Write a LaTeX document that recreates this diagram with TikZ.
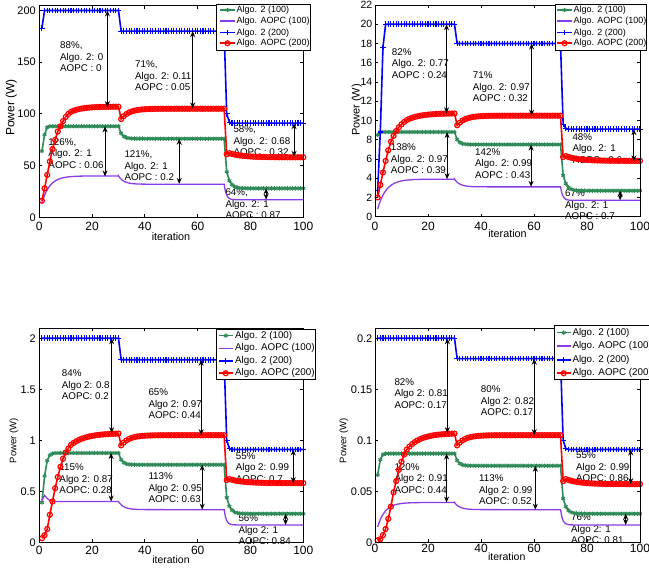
\documentclass[tikz,border=0pt]{standalone}
\usepackage{fontspec}
\setmainfont{Liberation Sans}
\usetikzlibrary{arrows.meta,plotmarks}
\definecolor{cgreen}{RGB}{46,139,87}
\definecolor{cpurple}{RGB}{140,60,230}
\definecolor{cblue}{RGB}{0,0,255}
\definecolor{cred}{RGB}{255,0,0}
\tikzset{
  axisframe/.style={draw=black, line width=0.9pt},
  gcurve/.style={color=cgreen, line width=1.6pt, mark=asterisk, mark size=2.2pt, mark options={line width=1pt}},
  pcurve/.style={color=cpurple, line width=1.3pt},
  bcurve/.style={color=cblue, line width=1.6pt, mark=+, mark size=2.8pt, mark options={line width=1.1pt}},
  rcurve/.style={color=cred, line width=1.6pt, mark=o, mark size=2.5pt, mark options={line width=1.2pt}},
  gaparrow/.style={{Stealth[length=6pt,width=5pt]}-{Stealth[length=6pt,width=5pt]}, line width=1pt, black},
  ann/.style={font=\fontsize{9.8}{11.5}\selectfont, align=left, anchor=west, inner sep=0pt},
  xticklab/.style={anchor=north, inner sep=0pt, font=\fontsize{12}{14}\selectfont, yshift=-5pt},
  yticklab/.style={anchor=east, inner sep=0pt, font=\fontsize{11}{13}\selectfont, xshift=-3.3pt},
  legtext/.style={anchor=west, inner sep=0pt, font=\fontsize{9}{11}\selectfont},
  legbox/.style={draw=black, fill=white, line width=0.9pt},
}
\newcommand{\axbox}[2]{%
  \draw[axisframe] (0,0) rectangle (100,#1);
  \foreach \u in {0,20,...,100}{%
    \draw[axisframe] (\u,0) -- ++(0,3pt);
    \draw[axisframe] (\u,#1) -- ++(0,-3pt);
    \node[xticklab] (xt\u) at (\u,0) {\u};}
  \foreach \v/\l [count=\i] in {#2}{%
    \draw[axisframe] (0,\v) -- ++(3pt,0);
    \draw[axisframe] (100,\v) -- ++(-3pt,0);
    \node[yticklab] (yt\i) at (0,\v) {\l};}
}
\newcommand{\lrow}[6]{%
  \draw[#1, mark indices={2}] plot coordinates {(#2,#4) ({(#2+#3)/2},#4) (#3,#4)};
  \node[legtext] at (#5,#4) {#6};}
\begin{document}
\begin{tikzpicture}[x=1pt,y=1pt]
\useasboundingbox (0,0) rectangle (649,569);
\fill[white] (0,0) rectangle (649,569);
\clip (0,0) rectangle (649,569);

% ---------------- annotation texts ----------------
\node[ann] (a11) at (60,512.3) {88\%,\\Algo. 2: 0\\AOPC : 0};
\node[ann] (a12) at (135,493.3) {71\%,\\Algo. 2: 0.11\\AOPC : 0.05};
\node[ann] (a13) at (48.3,415.7) {126\%,\\Algo. 2: 1\\AOPC : 0.06};
\node[ann] (a14) at (124.3,403) {121\%,\\Algo. 2: 1\\AOPC : 0.2};
\node[ann] (a15) at (233.3,428.3) {58\%,\\Algo. 2: 0.68\\AOPC : 0.32};
\node[ann] (a16) at (225.3,365.3) {64\%,\\Algo. 2: 1\\AOPC : 0.87};

\node[ann] (a21) at (391.7,505.7) {82\%\\Algo. 2: 0.77\\AOPC : 0.24};
\node[ann] (a22) at (472.7,482.3) {71\%\\Algo. 2: 0.97\\AOPC : 0.32};
\node[ann] (a23) at (390.7,410) {138\%\\Algo. 2: 0.97\\AOPC : 0.39};
\node[ann] (a24) at (475,405.7) {142\%\\Algo. 2: 0.99\\AOPC : 0.43};
\node[ann] (a25) at (572.3,420.7) {48\%\\Algo. 2: 1\\AOPC : 0.6};
\node[ann] (a26) at (565,364) {67\%\\Algo. 2: 1\\AOPC : 0.7};

\node[ann] (a31) at (61.7,184) {84\%\\Algo 2: 0.8\\AOPC: 0.2};
\node[ann] (a32) at (148.3,165) {65\%\\Algo 2: 0.97\\AOPC: 0.44};
\node[ann] (a33) at (59.3,90) {115\%\\Algo 2: 0.87\\AOPC: 0.28};
\node[ann] (a34) at (148.3,81.3) {113\%\\Algo 2: 0.95\\AOPC: 0.63};
\node[ann] (a35) at (235.7,101.7) {55\%\\Algo 2: 0.99\\AOPC: 0.7};
\node[ann] (a36) at (238.3,39) {56\%\\Algo 2: 1\\AOPC: 0.84};

\node[ann] (a41) at (394.3,175.7) {82\%\\Algo 2: 0.81\\AOPC: 0.17};
\node[ann] (a42) at (480.7,168) {80\%\\Algo 2: 0.82\\AOPC: 0.17};
\node[ann] (a43) at (394.3,90.7) {120\%\\Algo 2: 0.91\\AOPC: 0.44};
\node[ann] (a44) at (479,79) {113\%\\Algo 2: 0.99\\AOPC: 0.52};
\node[ann] (a45) at (576,102.3) {55\%\\Algo 2: 0.99\\AOPC: 0.86};
\node[ann] (a46) at (571,40) {76\%\\Algo 2: 1\\AOPC: 0.81};

% ---------------- axis labels ----------------
\node[font=\fontsize{10.8}{12}\selectfont, inner sep=0pt] (il1) at (171,332.3) {iteration};
\node[font=\fontsize{10.8}{12}\selectfont, inner sep=0pt] (il2) at (507.5,335.7) {iteration};
\node[font=\fontsize{10.5}{12}\selectfont, inner sep=0pt] (il3) at (171,9.7) {iteration};
\node[font=\fontsize{10.5}{12}\selectfont, inner sep=0pt] (il4) at (506.7,12.3) {iteration};
\node[font=\fontsize{12}{14}\selectfont, inner sep=0pt, rotate=90] (pl1) at (11.3,461.5) {Power (W)};
\node[font=\fontsize{11}{13}\selectfont, inner sep=0pt, rotate=90] (pl2) at (356.7,459) {Power (W)};
\node[font=\fontsize{9.5}{11}\selectfont, inner sep=0pt, rotate=90] (pl3) at (14,128.2) {Power (W)};
\node[font=\fontsize{9.5}{11}\selectfont, inner sep=0pt, rotate=90] (pl4) at (344,128.2) {Power (W)};

% ================= PLOT 1 =================
\begin{scope}[shift={(39.3pt,351.7pt)}, x=2.64pt, y=1.034pt]
  \draw[gcurve] plot coordinates {(1,64) (2,80) (3,87)}
    -- plot[samples at={4,...,30}] (\x,88)
    -- plot[samples at={31,...,70}] (\x,{76+12*exp(-(\x-30)/1.2)})
    -- plot[samples at={71,...,100}] (\x,{28+16*exp(-(\x-71)/1.3)});
  \draw[pcurve] plot[domain=1:30, samples=59] (\x,{40-26*exp(-(\x-1)/3)})
    -- plot[domain=30:70, samples=81] (\x,{32+8*exp(-(\x-30)/2)})
    -- plot[domain=70:100, samples=61] (\x,{17+15*exp(-(\x-70)/0.8)});
  \draw[bcurve] plot coordinates {(1,183)}
    -- plot[samples at={2,...,30}] (\x,200)
    -- plot[samples at={31,...,70}] (\x,180)
    -- plot coordinates {(71,100) (72,92)}
    -- plot[samples at={73,...,100}] (\x,91);
  \draw[rcurve] plot coordinates {(1,16) (2,28) (3,41) (4,54) (5,66) (6,75) (7,83) (8,88) (9,93) (10,97) (11,100) (12,102)}
    -- plot[samples at={13,...,30}] (\x,{107-5*exp(-(\x-12)/4)})
    -- plot[samples at={31,...,70}] (\x,{105-10*exp(-(\x-31)/3)})
    -- plot coordinates {(71,61)}
    -- plot[samples at={72,...,100}] (\x,{58+4*exp(-(\x-72)/5)});
  \draw[gaparrow] (25.8,200) -- (25.8,106.5);
  \draw[gaparrow] (24.9,88) -- (24.9,39.5);
  \draw[gaparrow] (58.1,180) -- (58.1,105.3);
  \draw[gaparrow] (53,76) -- (53,32.3);
  \draw[gaparrow] (96.5,91) -- (96.5,58.5);
  \draw[gaparrow] (85.9,28) -- (85.9,17);
  \axbox{204.4}{0/0,50/50,100/100,150/150,200/200}
\end{scope}

% ================= PLOT 2 =================
\begin{scope}[shift={(375pt,352.3pt)}, x=2.65pt, y=0.962pt, yticklab/.style={anchor=east, inner sep=0pt, font=\fontsize{10.5}{12}\selectfont, xshift=-2.5pt}]
  \draw[gcurve] plot coordinates {(1,85) (2,88)}
    -- plot[samples at={3,...,30}] (\x,88)
    -- plot[samples at={31,...,70}] (\x,{75+12*exp(-(\x-30)/1.2)})
    -- plot[samples at={71,...,100}] (\x,{27+16*exp(-(\x-71)/1.3)});
  \draw[pcurve] plot[domain=1:30, samples=59] (\x,{39-31*exp(-(\x-1)/3.2)})
    -- plot[domain=30:70, samples=81] (\x,{31+8*exp(-(\x-30)/2)})
    -- plot[domain=70:100, samples=61] (\x,{17+14*exp(-(\x-70)/0.8)});
  \draw[bcurve] plot coordinates {(1,27) (2,88) (3,176)}
    -- plot[samples at={4,...,30}] (\x,200)
    -- plot[samples at={31,...,70}] (\x,180)
    -- plot coordinates {(71,96) (72,92)}
    -- plot[samples at={73,...,100}] (\x,91);
  \draw[rcurve] plot coordinates {(1,20) (2,33) (3,46) (4,58) (5,69) (6,78) (7,84) (8,89) (9,93) (10,96) (11,98.5) (12,100.5)}
    -- plot[samples at={13,...,30}] (\x,{107.5-7*exp(-(\x-12)/5)})
    -- plot[samples at={31,...,70}] (\x,{105-10*exp(-(\x-31)/3)})
    -- plot coordinates {(71,62)}
    -- plot[samples at={72,...,100}] (\x,{58+5*exp(-(\x-72)/5)});
  \draw[gaparrow] (27,200) -- (27,107.5);
  \draw[gaparrow] (27.2,88) -- (27.2,39);
  \draw[gaparrow] (59.1,180) -- (59.1,105);
  \draw[gaparrow] (58.9,75) -- (58.9,31);
  \draw[gaparrow] (97.7,91) -- (97.7,57.5);
  \draw[gaparrow] (92.5,27) -- (92.5,17);
  \axbox{220}{0/0,20/2,40/4,60/6,80/8,100/10,120/12,140/14,160/16,180/18,200/20,220/22}
\end{scope}

% ================= PLOT 3 =================
\begin{scope}[shift={(39.3pt,26.7pt)}, x=2.64pt, y=1.02pt, xticklab/.style={anchor=north, inner sep=0pt, font=\fontsize{12}{14}\selectfont, yshift=-3.4pt}]
  \draw[gcurve] plot coordinates {(1,39) (2,65) (3,80) (4,85.5) (5,87)}
    -- plot[samples at={6,...,30}] (\x,87.5)
    -- plot[samples at={31,...,70}] (\x,{76+11.5*exp(-(\x-30)/1.2)})
    -- plot[samples at={71,...,100}] (\x,{28+16*exp(-(\x-71)/1.3)});
  \draw[pcurve] plot coordinates {(1,41) (2,46) (3,43) (4,41) (5,40.5)}
    -- plot[domain=5:30, samples=26] (\x,{40})
    -- plot[domain=30:70, samples=81] (\x,{32+8*exp(-(\x-30)/2)})
    -- plot[domain=70:100, samples=61] (\x,{17+15*exp(-(\x-70)/0.8)});
  \draw[bcurve] plot[samples at={1,...,30}] (\x,200)
    -- plot[samples at={31,...,70}] (\x,179)
    -- plot coordinates {(71,100) (72,92)}
    -- plot[samples at={73,...,100}] (\x,91);
  \draw[rcurve] plot coordinates {(1,4) (2,7) (3,13) (4,27) (5,40) (6,53) (7,64) (8,74) (9,82) (10,88) (11,92) (12,95.5)}
    -- plot[samples at={13,...,30}] (\x,{107-11.5*exp(-(\x-12)/5.5)})
    -- plot[samples at={31,...,70}] (\x,{105-10*exp(-(\x-31)/3)})
    -- plot coordinates {(71,61)}
    -- plot[samples at={72,...,100}] (\x,{58+4*exp(-(\x-72)/5)});
  \draw[gaparrow] (27.4,200) -- (27.4,107);
  \draw[gaparrow] (27.2,87.5) -- (27.2,40);
  \draw[gaparrow] (61.3,179) -- (61.3,105);
  \draw[gaparrow] (61.7,76) -- (61.7,32);
  \draw[gaparrow] (96.2,91) -- (96.2,58);
  \draw[gaparrow] (93.3,28) -- (93.3,17);
  \axbox{210}{0/0,50/0.5,100/1,150/1.5,200/2}
\end{scope}

% ================= PLOT 4 =================
\begin{scope}[shift={(375pt,26.7pt)}, x=2.65pt, y=1.02pt, xticklab/.style={anchor=north, inner sep=0pt, font=\fontsize{12}{14}\selectfont, yshift=-2pt}, yticklab/.style={anchor=east, inner sep=0pt, font=\fontsize{11}{13}\selectfont, xshift=-2.5pt}]
  \draw[gcurve] plot coordinates {(1,66) (2,81) (3,86)}
    -- plot[samples at={4,...,30}] (\x,87)
    -- plot[samples at={31,...,70}] (\x,{75+12*exp(-(\x-30)/1.2)})
    -- plot[samples at={71,...,100}] (\x,{28+15*exp(-(\x-71)/1.3)});
  \draw[pcurve] plot[domain=1:30, samples=59] (\x,{39-24*exp(-(\x-1)/2.8)})
    -- plot[domain=30:70, samples=81] (\x,{32+7*exp(-(\x-30)/2)})
    -- plot[domain=70:100, samples=61] (\x,{17+15*exp(-(\x-70)/0.8)});
  \draw[bcurve] plot[samples at={1,...,30}] (\x,200)
    -- plot[samples at={31,...,70}] (\x,180)
    -- plot coordinates {(71,100) (72,92)}
    -- plot[samples at={73,...,100}] (\x,91);
  \draw[rcurve] plot coordinates {(1,2) (2,3) (3,7) (4,13) (5,23) (6,35) (7,49) (8,60) (9,71) (10,79) (11,86) (12,91)}
    -- plot[samples at={13,...,30}] (\x,{107-16*exp(-(\x-12)/5)})
    -- plot[samples at={31,...,70}] (\x,{105-10*exp(-(\x-31)/3)})
    -- plot coordinates {(71,60)}
    -- plot[samples at={72,...,100}] (\x,{57+5*exp(-(\x-72)/5)});
  \draw[gaparrow] (27.3,200) -- (27.3,107);
  \draw[gaparrow] (27,87) -- (27,39);
  \draw[gaparrow] (60.1,180) -- (60.1,105);
  \draw[gaparrow] (60.5,75) -- (60.5,32);
  \draw[gaparrow] (96.5,91) -- (96.5,57);
  \draw[gaparrow] (94.6,28) -- (94.6,17);
  \axbox{210}{0/0,50/0.05,100/0.1,150/0.15,200/0.2}
\end{scope}

% ---------------- legends ----------------
\draw[legbox] (216,565) rectangle (310,519);
\lrow{gcurve}{220}{235}{559}{236.5}{Algo. 2 (100)}
\lrow{pcurve}{220}{235}{548}{236.5}{Algo. AOPC (100)}
\lrow{bcurve}{220}{235}{536.3}{236.5}{Algo. 2 (200)}
\lrow{rcurve}{220}{235}{525.7}{236.5}{Algo. AOPC (200)}

\draw[legbox] (555,565) rectangle (646.7,519);
\lrow{gcurve}{557.3}{571.7}{559}{573.3}{Algo. 2 (100)}
\lrow{pcurve}{557.3}{571.7}{548}{573.3}{Algo. AOPC (100)}
\lrow{bcurve}{557.3}{571.7}{536.3}{573.3}{Algo. 2 (200)}
\lrow{rcurve}{557.3}{571.7}{525.7}{573.3}{Algo. AOPC (200)}

\begin{scope}[legtext/.style={anchor=west, inner sep=0pt, font=\fontsize{9.8}{11}\selectfont}]
\draw[legbox] (216.7,239.7) rectangle (315,189.7);
\lrow{gcurve}{218.5}{233}{233.3}{235}{Algo. 2 (100)}
\lrow{pcurve}{218.5}{233}{220.7}{235}{Algo. AOPC (100)}
\lrow{bcurve}{218.5}{233}{208}{235}{Algo. 2 (200)}
\lrow{rcurve}{218.5}{233}{195.7}{235}{Algo. AOPC (200)}

\draw[legbox] (554.3,244) rectangle (665,189.7);
\lrow{gcurve}{556.7}{570.7}{236.3}{572.3}{Algo. 2 (100)}
\lrow{pcurve}{556.7}{570.7}{223}{572.3}{Algo. AOPC (100)}
\lrow{bcurve}{556.7}{570.7}{209}{572.3}{Algo. 2 (200)}
\lrow{rcurve}{556.7}{570.7}{195.7}{572.3}{Algo. AOPC (200)}
\end{scope}
\end{tikzpicture}
\end{document}
